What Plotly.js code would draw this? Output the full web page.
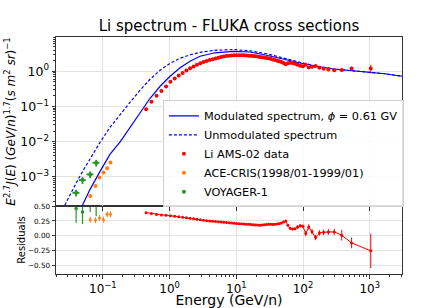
<!DOCTYPE html>
<html>
<head>
<meta charset="utf-8">
<script src="https://cdn.plot.ly/plotly-3.0.1.min.js"></script>
<style>html,body{margin:0;padding:0;background:#fff;}#chart{width:447px;height:308px;}</style>
</head>
<body>
<div id="chart"></div>
<script>
// ---- model curves ----
const modelE = [0.0398, 0.0490, 0.0646, 0.0912, 0.1286, 0.1815, 0.2563, 0.3617, 0.5106, 0.7208, 1.017, 1.436, 2.027, 2.861, 4.80, 8.93, 16.04, 28.5, 50.5, 89.9, 159.8, 283.2, 503.6, 1003, 1683, 3055, 3984];
const modulated = [6.50e-5, 1.54e-4, 4.47e-4, 1.45e-3, 4.41e-3, 9.84e-3, 0.0257, 0.0686, 0.171, 0.375, 0.721, 1.257, 1.92, 2.67, 3.35, 3.70, 3.53, 2.85, 2.19, 1.72, 1.39, 1.16, 1.05, 0.955, 0.849, 0.721, 0.67];
const unmodE = [0.02296, 0.02636, 0.0324, 0.0398, 0.0490, 0.0646, 0.0912, 0.1286, 0.1815, 0.2563, 0.3617, 0.5106, 0.7208, 1.017, 1.436, 2.027, 2.861, 4.80, 8.93, 16.04, 28.5, 50.5, 89.9, 159.8, 283.2, 503.6, 1003, 1683, 3055, 3984];
const unmodulated = [8.73e-5, 1.47e-4, 3.23e-4, 6.62e-4, 1.36e-3, 3.39e-3, 9.66e-3, 0.0257, 0.0602, 0.132, 0.289, 0.593, 1.07, 1.69, 2.34, 2.94, 3.46, 3.95, 4.13, 3.82, 3.14, 2.34, 1.80, 1.40, 1.17, 1.05, 0.955, 0.849, 0.721, 0.67];

// ---- AMS-02 Li ----
const amsE = [0.445, 0.535, 0.637, 0.754, 0.885, 1.030, 1.192, 1.371, 1.569, 1.788, 2.029, 2.290, 2.576, 2.887, 3.225, 3.591, 3.988, 4.415, 4.883, 5.377, 5.896, 6.466, 7.085, 7.756, 8.476, 9.247, 10.07, 10.97, 11.94, 12.96, 14.06, 15.23, 16.48, 17.82, 19.27, 20.82, 22.47, 24.24, 26.14, 28.16, 30.33, 32.68, 35.20, 37.90, 40.80, 43.92, 47.29, 51.03, 55.03, 59.28, 64.02, 69.50, 75.75, 82.74, 90.72, 99.70, 109.9, 121.9, 136.3, 154.0, 175.9, 203.5, 239.6, 293.4, 380.1, 533.9, 1034.7];
const amsFlux = [0.083, 0.135, 0.20, 0.275, 0.37, 0.50, 0.625, 0.76, 0.90, 1.05, 1.22, 1.37, 1.52, 1.68, 1.82, 1.96, 2.08, 2.20, 2.32, 2.44, 2.54, 2.62, 2.70, 2.75, 2.79, 2.83, 2.84, 2.84, 2.84, 2.83, 2.80, 2.77, 2.74, 2.70, 2.66, 2.61, 2.56, 2.51, 2.45, 2.39, 2.33, 2.27, 2.17, 2.09, 2.00, 1.92, 1.84, 1.72, 1.59, 1.70, 1.74, 1.71, 1.64, 1.53, 1.43, 1.38, 1.52, 1.28, 1.34, 1.42, 1.25, 1.18, 1.12, 1.07, 1.09, 1.20, 1.19];
const amsErr = [0.0025, 0.004, 0.006, 0.008, 0.011, 0.015, 0.019, 0.023, 0.027, 0.032, 0.037, 0.041, 0.046, 0.05, 0.055, 0.059, 0.062, 0.066, 0.07, 0.073, 0.076, 0.079, 0.081, 0.083, 0.084, 0.085, 0.085, 0.085, 0.085, 0.085, 0.084, 0.083, 0.082, 0.081, 0.08, 0.078, 0.077, 0.075, 0.074, 0.072, 0.082, 0.079, 0.076, 0.073, 0.07, 0.067, 0.064, 0.06, 0.064, 0.068, 0.07, 0.068, 0.066, 0.077, 0.072, 0.069, 0.106, 0.09, 0.094, 0.1, 0.088, 0.083, 0.08, 0.085, 0.12, 0.13, 0.33];
const amsRes = [0.39, 0.375, 0.36, 0.352, 0.345, 0.338, 0.33, 0.322, 0.313, 0.303, 0.295, 0.288, 0.28, 0.27, 0.262, 0.256, 0.25, 0.246, 0.242, 0.238, 0.233, 0.228, 0.224, 0.219, 0.215, 0.212, 0.208, 0.205, 0.202, 0.199, 0.197, 0.194, 0.191, 0.188, 0.185, 0.182, 0.18, 0.183, 0.188, 0.192, 0.195, 0.195, 0.193, 0.197, 0.20, 0.205, 0.215, 0.235, 0.25, 0.18, 0.13, 0.115, 0.12, 0.15, 0.17, 0.16, 0.04, 0.15, 0.07, -0.027, 0.05, 0.06, 0.067, 0.067, 0.012, -0.117, -0.25];
const amsResErr = [0.012, 0.012, 0.012, 0.012, 0.012, 0.012, 0.012, 0.012, 0.012, 0.012, 0.012, 0.012, 0.012, 0.012, 0.012, 0.012, 0.012, 0.012, 0.012, 0.012, 0.012, 0.012, 0.012, 0.012, 0.012, 0.012, 0.012, 0.012, 0.012, 0.012, 0.012, 0.012, 0.012, 0.012, 0.012, 0.012, 0.012, 0.012, 0.012, 0.012, 0.015, 0.015, 0.015, 0.015, 0.015, 0.015, 0.015, 0.015, 0.02, 0.02, 0.02, 0.02, 0.02, 0.03, 0.03, 0.03, 0.045, 0.045, 0.045, 0.045, 0.045, 0.045, 0.05, 0.055, 0.09, 0.09, 0.29];

// ---- ACE-CRIS ----
const aceE = [0.0646, 0.0775, 0.0889, 0.102, 0.116, 0.130];
const aceFlux = [2.83e-4, 5.44e-4, 9.48e-4, 1.315e-3, 1.76e-3, 2.53e-3];
const aceErr = [2.5e-5, 4.5e-5, 7e-5, 1e-4, 1.3e-4, 1.8e-4];
const aceRes = [0.273, 0.262, 0.30, 0.273, 0.362, 0.362];
const aceResErr = [0.05, 0.05, 0.05, 0.05, 0.05, 0.05];

// ---- VOYAGER-1 ----
const voyE = [0.0398, 0.0496, 0.0646, 0.0794];
const voyEerr = [0.0048, 0.0060, 0.0078, 0.0095];
const voyFlux = [3.5e-4, 8.05e-4, 1.17e-3, 2.5e-3];
const voyErr = [7.5e-5, 1.75e-4, 2.5e-4, 5.4e-4];
const voyRes = [0.46, 0.40, 0.58, 0.60];
const voyResErr = [0.24, 0.20, 0.18, 0.27];

// ---- ticks ----
const xTickVals = [0.1, 1, 10, 100, 1000];
const xTickText = ['10<sup>−1</sup>', '10<sup>0</sup>', '10<sup>1</sup>', '10<sup>2</sup>', '10<sup>3</sup>'];
const yTickVals = [0.001, 0.01, 0.1, 1];
const yTickText = ['10<sup>−3</sup>', '10<sup>−2</sup>', '10<sup>−1</sup>', '10<sup>0</sup>'];
const rTickVals = [-0.5, -0.25, 0, 0.25, 0.5];
const rTickText = ['−0.50', '−0.25', '0.00', '0.25', '0.50'];

const RED = '#ff0000', BLUE = '#0000ff', ORANGE = '#ff7f0e', GREEN = '#229922';
const FONT = 'DejaVu Sans, sans-serif';

const traces = [
  {x: modelE, y: modulated, xaxis: 'x2', yaxis: 'y', mode: 'lines', line: {color: BLUE, width: 1.2},
   name: 'Modulated spectrum, <i>ϕ</i> = 0.61 GV'},
  {x: unmodE, y: unmodulated, xaxis: 'x2', yaxis: 'y', mode: 'lines', line: {color: BLUE, width: 1.2, dash: '3px,2px'},
   name: 'Unmodulated spectrum'},
  {x: amsE, y: amsFlux, xaxis: 'x2', yaxis: 'y', mode: 'markers', marker: {color: RED, size: 4},
   error_y: {type: 'data', array: amsErr, color: RED, thickness: 1, width: 0}, name: 'Li AMS-02 data'},
  {x: aceE, y: aceFlux, xaxis: 'x2', yaxis: 'y', mode: 'markers', marker: {color: ORANGE, size: 4},
   error_y: {type: 'data', array: aceErr, color: ORANGE, thickness: 1, width: 0}, name: 'ACE-CRIS(1998/01-1999/01)'},
  {x: voyE, y: voyFlux, xaxis: 'x2', yaxis: 'y', mode: 'markers', marker: {color: GREEN, size: 4},
   error_y: {type: 'data', array: voyErr, color: GREEN, thickness: 1.8, width: 0},
   error_x: {type: 'data', array: voyEerr, color: GREEN, thickness: 1.8, width: 0}, name: 'VOYAGER-1'},
  {x: amsE, y: amsRes, xaxis: 'x', yaxis: 'y2', mode: 'lines+markers', line: {color: RED, width: 1}, marker: {color: RED, size: 3},
   error_y: {type: 'data', array: amsResErr, color: RED, thickness: 1, width: 0}, showlegend: false},
  {x: aceE, y: aceRes, xaxis: 'x', yaxis: 'y2', mode: 'markers', marker: {color: ORANGE, size: 3},
   error_y: {type: 'data', array: aceResErr, color: ORANGE, thickness: 1, width: 0}, showlegend: false},
  {x: voyE, y: voyRes, xaxis: 'x', yaxis: 'y2', mode: 'markers', marker: {color: GREEN, size: 3.5},
   error_y: {type: 'data', array: voyResErr, color: GREEN, thickness: 1.2, width: 0}, showlegend: false}
];

const LINE = '#333333', GRID = '#e3e3e3';
const split = 0.2866;
const commonAx = {showline: true, mirror: true, linecolor: LINE, linewidth: 1, ticks: 'outside', ticklen: 3.5,
  tickwidth: 1, tickcolor: LINE, gridcolor: GRID, gridwidth: 1, zeroline: false, automargin: false};

const layout = {
  width: 447, height: 308,
  margin: {l: 56, r: 44.7, t: 36.7, b: 34},
  paper_bgcolor: '#ffffff', plot_bgcolor: '#ffffff',
  font: {family: FONT, color: '#000', size: 12},
  showlegend: true,
  title: {text: 'Li spectrum - FLUKA cross sections', font: {family: FONT, size: 15, color: '#000'},
    x: 0.5, xref: 'paper', y: 1 - 26 / 308, yref: 'container', yanchor: 'middle'},
  xaxis: Object.assign({}, commonAx, {type: 'log', range: [-1.702, 3.483], anchor: 'y2',
    tickmode: 'array', tickvals: xTickVals, ticktext: xTickText, tickfont: {size: 12},
    minor: {ticks: 'outside', ticklen: 2, tickcolor: LINE, dtick: 'D1', showgrid: false},
    title: {text: 'Energy (GeV/n)', font: {size: 14}, standoff: 2}}),
  xaxis2: Object.assign({}, commonAx, {type: 'log', range: [-1.702, 3.483], anchor: 'y', matches: 'x',
    tickmode: 'array', tickvals: xTickVals, showticklabels: false}),
  yaxis: Object.assign({}, commonAx, {type: 'log', range: [-3.832, 0.974], domain: [split, 1], anchor: 'x2',
    tickmode: 'array', tickvals: yTickVals, ticktext: yTickText, tickfont: {size: 12.5},
    minor: {ticks: 'outside', ticklen: 2, tickcolor: LINE, dtick: 'D1', showgrid: false},
    title: {text: '<i>E</i><sup>2.7</sup><i>J</i>(<i>E</i>) (<i>GeV</i>/<i>n</i>)<sup>1.7</sup>(<i>s m</i><sup>2</sup> <i>sr</i>)<sup>−1</sup>',
      font: {size: 12}, standoff: 1}}),
  yaxis2: Object.assign({}, commonAx, {range: [-0.638, 0.5], domain: [0, split], anchor: 'x',
    tickmode: 'array', tickvals: rTickVals, ticktext: rTickText, tickfont: {size: 7.2},
    title: {text: 'Residuals', font: {size: 10}, standoff: 0}}),
  legend: {x: 0.309, y: 0.733, xanchor: 'left', yanchor: 'top', bgcolor: 'rgba(255,255,255,0.85)',
    bordercolor: '#d0d0d0', borderwidth: 1, font: {size: 11.3, family: FONT}, tracegroupgap: 0, itemwidth: 30}
};

Plotly.newPlot('chart', traces, layout, {displayModeBar: false, staticPlot: true});
</script>
</body>
</html>
